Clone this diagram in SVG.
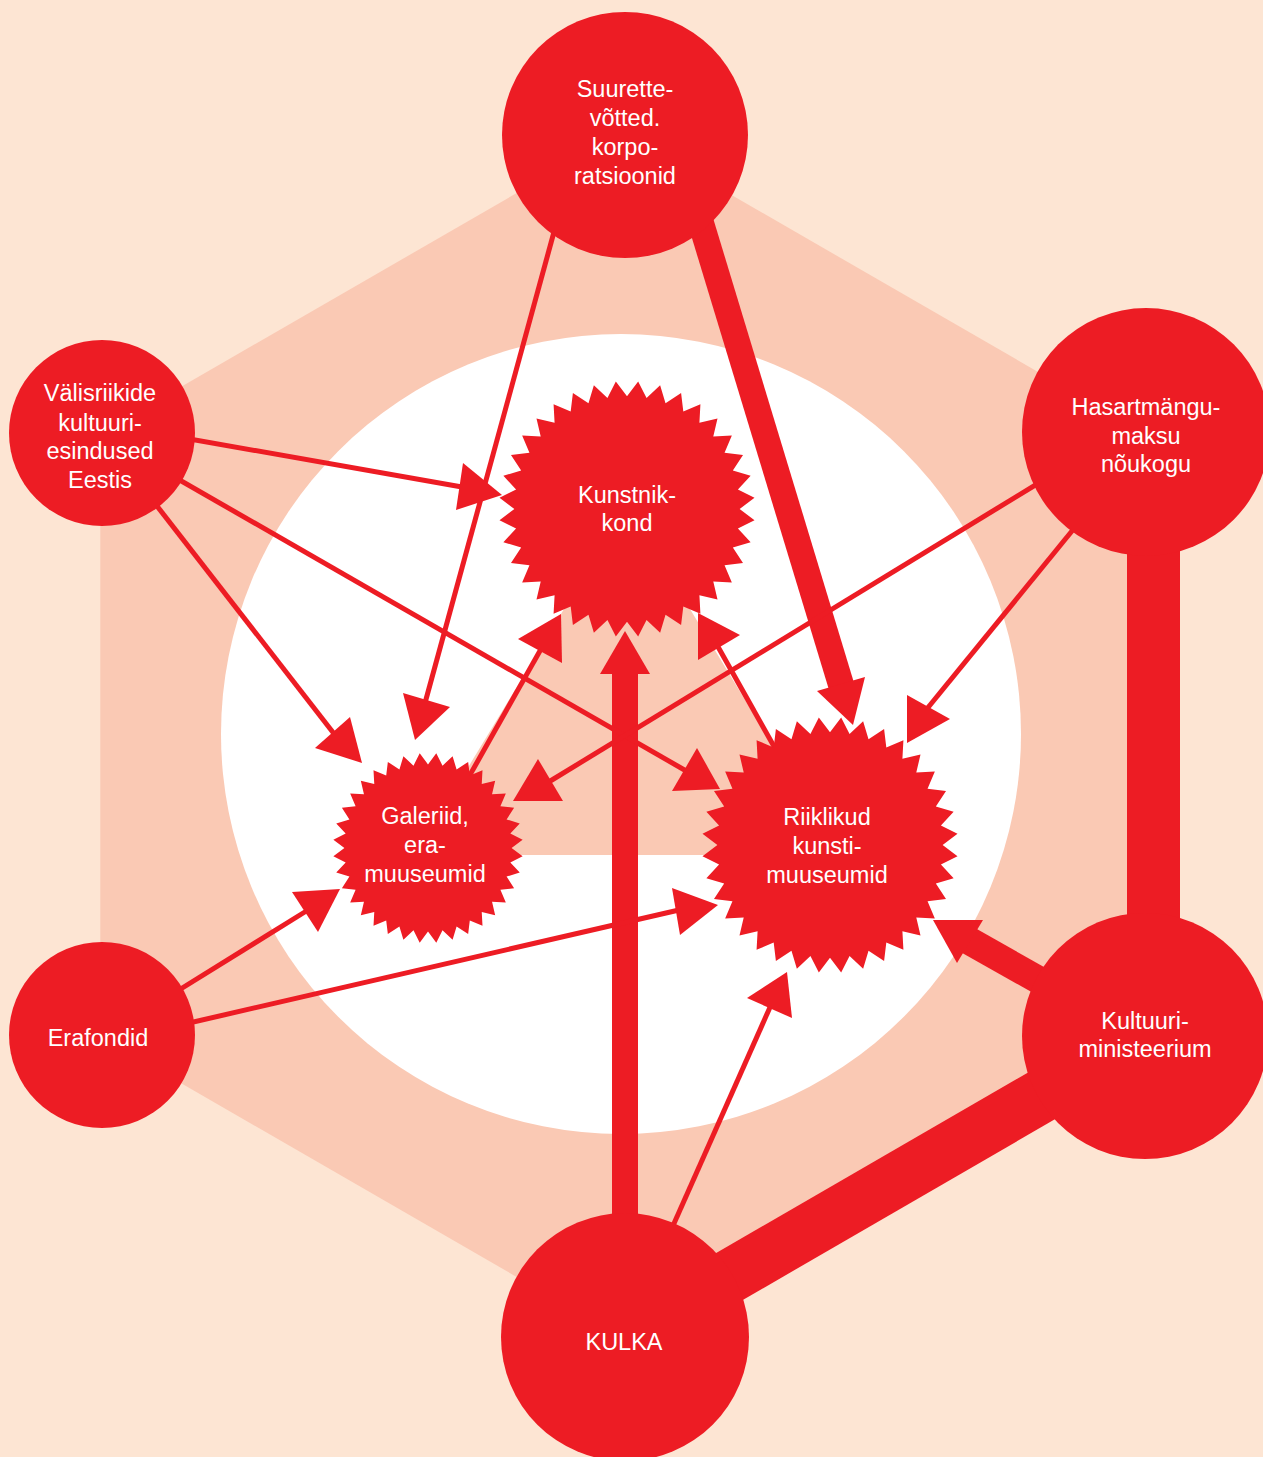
<svg xmlns="http://www.w3.org/2000/svg" xmlns:xlink="http://www.w3.org/1999/xlink" width="1263" height="1457" viewBox="0 0 1263 1457">
<style>
.bg{fill:#FDE5D3}
.hex{fill:#FAC9B4}
.ring{fill:#FFFFFF}
.node{fill:#ED1C24}
.thin{stroke:#ED1C24;stroke-width:5;fill:none}
.thick{stroke:#ED1C24;fill:none}
.head{fill:#ED1C24}
.lbl{font-family:"Liberation Sans",Arial,Helvetica,sans-serif;font-size:23.5px;fill:#FFFFFF;text-anchor:middle}
</style>
<defs>
<polygon id="star" points="0,-88 8.72,-99.62 15.28,-86.66 25.88,-96.59 30.10,-82.69 42.26,-90.63 44,-76.21 57.36,-81.92 56.57,-67.41 70.71,-70.71 67.41,-56.57 81.92,-57.36 76.21,-44 90.63,-42.26 82.69,-30.10 96.59,-25.88 86.66,-15.28 99.62,-8.72 88,0 99.62,8.72 86.66,15.28 96.59,25.88 82.69,30.10 90.63,42.26 76.21,44 81.92,57.36 67.41,56.57 70.71,70.71 56.57,67.41 57.36,81.92 44,76.21 42.26,90.63 30.10,82.69 25.88,96.59 15.28,86.66 8.72,99.62 0,88 -8.72,99.62 -15.28,86.66 -25.88,96.59 -30.10,82.69 -42.26,90.63 -44,76.21 -57.36,81.92 -56.57,67.41 -70.71,70.71 -67.41,56.57 -81.92,57.36 -76.21,44 -90.63,42.26 -82.69,30.10 -96.59,25.88 -86.66,15.28 -99.62,8.72 -88,0 -99.62,-8.72 -86.66,-15.28 -96.59,-25.88 -82.69,-30.10 -90.63,-42.26 -76.21,-44 -81.92,-57.36 -67.41,-56.57 -70.71,-70.71 -56.57,-67.41 -57.36,-81.92 -44,-76.21 -42.26,-90.63 -30.10,-82.69 -25.88,-96.59 -15.28,-86.66 -8.72,-99.62"/>
</defs>

<g id="background">
<rect class="bg" x="0" y="0" width="1263" height="1457"/>
<polygon class="hex" points="622.5,132 1144.7,433.5 1144.7,1036.5 622.5,1338 100.3,1036.5 100.3,433.5"/>
<circle class="ring" cx="621" cy="734" r="400"/>
<polygon class="hex" points="627,505 839,855 415,855"/>
</g>

<g id="connectors">
<line class="thick" x1="1153.5" y1="432" x2="1153.5" y2="1036" stroke-width="53"/>
<line class="thick" x1="625" y1="1337" x2="1145" y2="1036" stroke-width="54"/>
<line class="thick" x1="694" y1="200" x2="842" y2="688" stroke-width="26"/>
<polygon class="head" points="817,691 865,677 853,725"/>
<line class="thick" x1="625" y1="1337" x2="625" y2="670" stroke-width="26"/>
<polygon class="head" points="600,674 650,674 625,631"/>
<line class="thick" x1="1145" y1="1040" x2="966" y2="939" stroke-width="28"/>
<polygon class="head" points="983,920 957,963 933,920"/>

<line class="thin" x1="560" y1="210" x2="425" y2="703"/>
<polygon class="head" points="403,693 450,707 415,740"/>
<line class="thin" x1="150" y1="432" x2="462" y2="487"/>
<polygon class="head" points="463,463 456,510 502,495"/>
<line class="thin" x1="129" y1="470" x2="335" y2="735"/>
<polygon class="head" points="350,717 315,748 362,763"/>
<line class="thin" x1="150" y1="463" x2="688" y2="772"/>
<polygon class="head" points="672,791 697,748 720,789"/>
<line class="thin" x1="440" y1="828" x2="541" y2="649"/>
<polygon class="head" points="518,639 562,663 561,614"/>
<line class="thin" x1="790" y1="775" x2="717" y2="645"/>
<polygon class="head" points="698,613 740,635 698,660"/>
<line class="thin" x1="1060" y1="470" x2="547" y2="783"/>
<polygon class="head" points="538,759 563,801 513,801"/>
<line class="thin" x1="1085" y1="515" x2="926" y2="710"/>
<polygon class="head" points="907,695 950,719 907,743"/>
<line class="thin" x1="150" y1="1008" x2="308" y2="910"/>
<polygon class="head" points="292,892 318,932 340,889"/>
<line class="thin" x1="150" y1="1032" x2="679" y2="910"/>
<polygon class="head" points="672,888 680,935 718,905"/>
<line class="thin" x1="660" y1="1255" x2="771" y2="1005"/>
<polygon class="head" points="747,998 792,1018 787,972"/>
</g>

<g id="node-suurettevotted">
<circle class="node" cx="625" cy="135" r="123"/>
<text class="lbl"><tspan x="625" y="97">Suurette-</tspan><tspan x="625" y="126">võtted.</tspan><tspan x="625" y="155">korpo-</tspan><tspan x="625" y="184">ratsioonid</tspan></text>
</g>
<g id="node-valisriikide">
<circle class="node" cx="102" cy="433" r="93"/>
<text class="lbl"><tspan x="100" y="401">Välisriikide</tspan><tspan x="100" y="431">kultuuri-</tspan><tspan x="100" y="459">esindused</tspan><tspan x="100" y="488">Eestis</tspan></text>
</g>
<g id="node-hasartmangu">
<circle class="node" cx="1146" cy="432" r="124"/>
<text class="lbl"><tspan x="1146" y="415">Hasartmängu-</tspan><tspan x="1146" y="444">maksu</tspan><tspan x="1146" y="472">nõukogu</tspan></text>
</g>
<g id="node-erafondid">
<circle class="node" cx="102" cy="1035" r="93"/>
<text class="lbl"><tspan x="98" y="1046">Erafondid</tspan></text>
</g>
<g id="node-kultuuriministeerium">
<circle class="node" cx="1145" cy="1036" r="123"/>
<text class="lbl"><tspan x="1145" y="1029">Kultuuri-</tspan><tspan x="1145" y="1057">ministeerium</tspan></text>
</g>
<g id="node-kulka">
<circle class="node" cx="625" cy="1337" r="124"/>
<text class="lbl"><tspan x="624" y="1350">KULKA</tspan></text>
</g>
<g id="node-kunstnikkond">
<use xlink:href="#star" href="#star" class="node" transform="translate(627,509) scale(1.28)"/>
<text class="lbl"><tspan x="627" y="503">Kunstnik-</tspan><tspan x="627" y="531">kond</tspan></text>
</g>
<g id="node-galeriid">
<use xlink:href="#star" href="#star" class="node" transform="translate(428,848) scale(0.95)"/>
<text class="lbl"><tspan x="425" y="824">Galeriid,</tspan><tspan x="425" y="853">era-</tspan><tspan x="425" y="882">muuseumid</tspan></text>
</g>
<g id="node-riiklikud">
<use xlink:href="#star" href="#star" class="node" transform="translate(830,845) scale(1.28)"/>
<text class="lbl"><tspan x="827" y="825">Riiklikud</tspan><tspan x="827" y="854">kunsti-</tspan><tspan x="827" y="883">muuseumid</tspan></text>
</g>
</svg>
